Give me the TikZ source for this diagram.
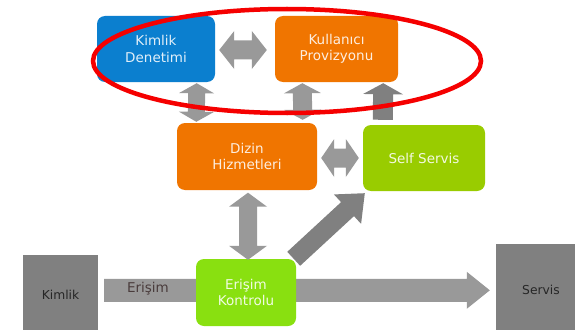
\documentclass[tikz,border=0pt]{standalone}
\usepackage{fontspec}
\setmainfont{DejaVu Sans}
\usetikzlibrary{calc}

\definecolor{kdblue}{RGB}{11,127,207}
\definecolor{provorange}{RGB}{240,117,0}
\definecolor{selfgreen}{RGB}{153,204,0}
\definecolor{ekgreen}{RGB}{137,224,16}
\definecolor{boxgray}{RGB}{128,128,128}
\definecolor{arrlight}{RGB}{153,153,153}
\definecolor{arrdark}{RGB}{128,128,128}
\definecolor{labelbrown}{RGB}{74,60,60}
\definecolor{ringred}{RGB}{245,0,0}

% fat double-headed arrow: #1 style, #2 tip A, #3 tip B,
% #4 half shaft width, #5 half head width, #6 head length
\newcommand\fatdouble[6]{%
  \coordinate (fa-p) at ($(#2)!#6!(#3)$);
  \coordinate (fa-q) at ($(#3)!#6!(#2)$);
  \fill[#1] (#2) -- ($(fa-p)!#5!90:(#3)$) -- ($(fa-p)!#4!90:(#3)$)
    -- ($(fa-q)!#4!-90:(#2)$) -- ($(fa-q)!#5!-90:(#2)$) -- (#3)
    -- ($(fa-q)!#5!90:(#2)$) -- ($(fa-q)!#4!90:(#2)$)
    -- ($(fa-p)!#4!-90:(#3)$) -- ($(fa-p)!#5!-90:(#3)$) -- cycle;}

% fat single-headed arrow: #1 style, #2 tail, #3 tip,
% #4 half shaft width, #5 half head width, #6 head length
\newcommand\fatsingle[6]{%
  \coordinate (fa-q) at ($(#3)!#6!(#2)$);
  \fill[#1] ($(#2)!#4!90:(#3)$) -- ($(fa-q)!#4!-90:(#2)$)
    -- ($(fa-q)!#5!-90:(#2)$) -- (#3) -- ($(fa-q)!#5!90:(#2)$)
    -- ($(fa-q)!#4!90:(#2)$) -- ($(#2)!#4!-90:(#3)$) -- cycle;}

\tikzset{
  box/.style={rounded corners=8pt, inner sep=0pt, align=center,
    text=white, text opacity=0.88, font=\fontsize{13.5}{16.5}\selectfont},
  endbox/.style={fill=boxgray, inner sep=0pt, text=black!85,
    font=\fontsize{12.3}{15}\selectfont},
}

\begin{document}
\begin{tikzpicture}[x=1pt,y=-1pt]
\useasboundingbox (0,0) rectangle (575,329);
\fill[white] (0,0) rectangle (575,329);

% boxes
\node[box, fill=kdblue, minimum width=118pt, minimum height=66pt] (kd) at (156,49) {Kimlik\\Denetimi};
\node[box, fill=provorange, minimum width=123pt, minimum height=66pt] (kp) at (336.5,49) {Kullanıcı\\Provizyonu};
\node[box, fill=provorange, minimum width=140pt, minimum height=67pt] (dh) at (247,156.5) {Dizin\\Hizmetleri};
\node[box, fill=selfgreen, minimum width=122pt, minimum height=66pt] (ss) at (424,158) {Self Servis};
\node[endbox, minimum width=75pt, minimum height=80pt] (km) at (60.5,295) {Kimlik};
\node[endbox, minimum width=84pt, minimum height=91pt] (sv) at (538,289.5) {\hspace*{6pt}Servis};

% arrow end points, taken from the boxes
\coordinate (a1) at ($(kd.east)+(4,1)$);
\coordinate (b1) at ($(kp.west)+(-8,1)$);
\coordinate (a2) at ($(kd.south east)+(-18.5,1)$);
\coordinate (b2) at ($(dh.north west)+(19.5,-1)$);
\coordinate (a3) at ($(kp.south west)+(27.5,1)$);
\coordinate (b3) at ($(dh.north east)+(-14.5,-3)$);
\coordinate (a4) at ($(ss.north west)+(20,-5)$);
\coordinate (b4) at ($(kp.south east)+(-15,1)$);
\coordinate (a5) at ($(dh.east)+(4,1.5)$);
\coordinate (b5) at ($(ss.west)+(-4,0)$);
\coordinate (a6) at ($(dh.south)+(1,2.5)$);
\coordinate (a8) at ($(km.north east)+(6,35.5)$);
\coordinate (b8) at ($(sv.north west)+(-6,46.5)$);

% connectors between the boxes
\fatdouble{arrlight}{a1}{b1}{9.5pt}{19pt}{15pt}
\fatdouble{arrlight}{a2}{b2}{8.5pt}{17.5pt}{10pt}
\fatdouble{arrlight}{a3}{b3}{9.5pt}{18.5pt}{10pt}
\fatsingle{arrdark}{a4}{b4}{10pt}{20pt}{11pt}
\fatdouble{arrlight}{a5}{b5}{9.5pt}{19pt}{13pt}
\fatsingle{arrlight}{a8}{b8}{11.5pt}{18.5pt}{23pt}

% access control box sits on the main flow
\node[box, fill=ekgreen, minimum width=100pt, minimum height=67pt] (ek) at (246,292.5) {Erişim\\Kontrolu};
\coordinate (b6) at ($(ek.north)+(2,1)$);
\coordinate (a7) at ($(ek.north east)+(-2.5,0)$);
\coordinate (b7) at ($(ss.south west)+(2,2)$);
\fatdouble{arrlight}{a6}{b6}{9pt}{19pt}{14pt}
\fatsingle{arrdark}{a7}{b7}{9.5pt}{20pt}{23.5pt}

\node[text=labelbrown, font=\fontsize{13.5}{16}\selectfont, inner sep=0pt] (lbl) at (148,289) {Erişim};

% highlight ring
\draw[ringred, line width=4.5pt] (287,61) ellipse [x radius=194, y radius=52];
\end{tikzpicture}
\end{document}
